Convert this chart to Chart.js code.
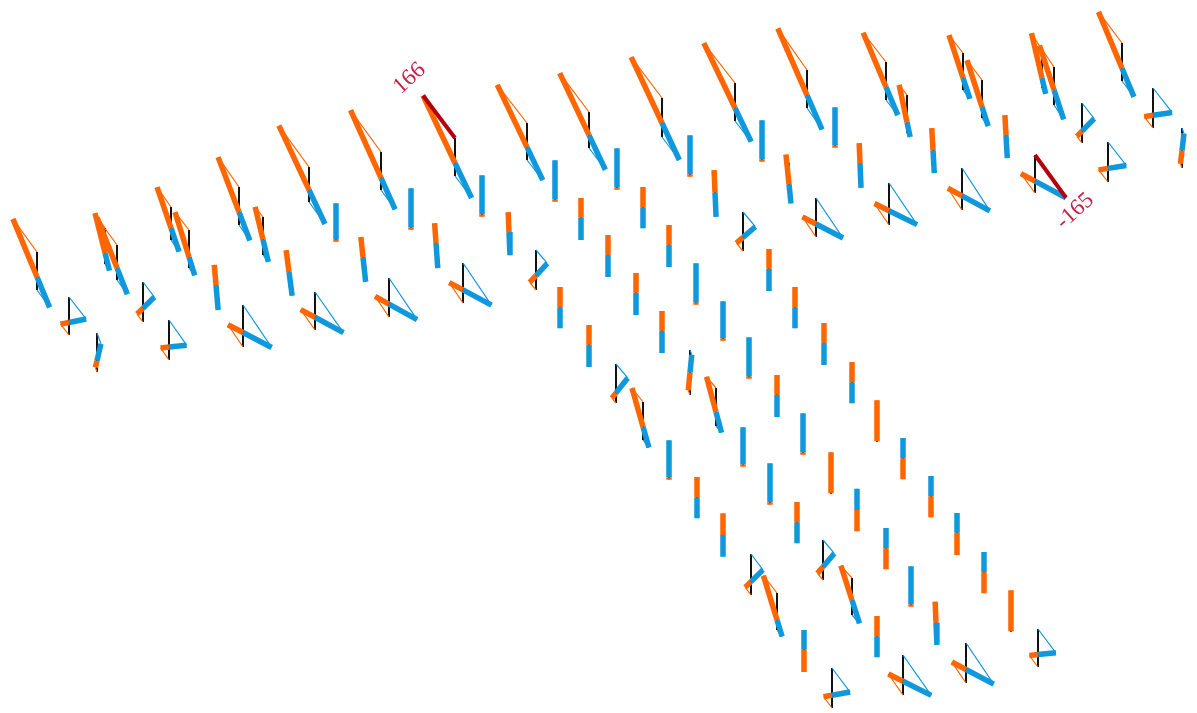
<!DOCTYPE html>
<html>
<head>
<meta charset="utf-8">
<title>Column bending moments</title>
<style>
  html, body { margin: 0; padding: 0; background: #ffffff; }
  #wrap { width: 1197px; height: 713px; }
</style>
<script src="https://cdn.jsdelivr.net/npm/chart.js@4.4.1/dist/chart.umd.min.js"></script>
</head>
<body>
<div id="wrap"><canvas id="chart" width="1197" height="713"></canvas></div>
<script>
// Columns of the frame in view coordinates (y grows downward), one entry per column.
// Groups: upper diagonals, lower diagonals, short members, triangles,
// bars (+/-), bars (-/+), negative bars, positive bars.
const memberX = [
  37, 105, 117, 171, 189, 239, 263, 309, 381, 455, 527, 589, 662, 735, 807, 886, 907, 963, 982, 1042, 1054, 1122,
  643, 716, 777, 852,
  97, 690, 1182, 789,
  69, 143, 169, 243, 315, 389, 463, 536, 743, 816, 889, 962, 1035, 1108, 1082, 1153, 616, 751, 823, 832, 903, 966, 1038,
  216, 289, 363, 436, 509, 581, 643, 715, 860, 933, 1006, 560, 608, 636, 589, 669, 662, 769, 795, 824, 852, 777, 697, 723, 797, 877, 936,
  903, 857, 931, 886, 957, 984, 804,
  336, 411, 482, 555, 617, 690, 762, 835, 696, 723, 749, 669, 743, 770, 803, 911,
  831, 877, 1011
];
const memberTop = [
  252, 228, 245, 207, 230, 187, 217, 167, 152, 138, 123, 112, 98, 83, 70, 62, 95, 53, 80, 50, 67, 43,
  402, 388, 593, 578,
  333, 350, 128, 163,
  297, 282, 320, 305, 292, 278, 263, 250, 212, 198, 183, 168, 155, 142, 103, 88, 364, 554, 540, 668, 655, 643, 629,
  273, 259, 245, 231, 220, 206, 195, 179, 151, 137, 123, 295, 243, 281, 333, 233, 319, 257, 295, 331, 370, 383, 485, 522, 510, 624, 610,
  446, 497, 484, 536, 521, 560, 638,
  215, 200, 187, 172, 160, 147, 132, 119, 275, 313, 349, 452, 439, 475, 425, 578,
  464, 412, 602
];
const memberBottom = [
  290, 264, 280, 240, 268, 225, 255, 202, 190, 176, 160, 148, 137, 121, 108, 100, 133, 90, 118, 88, 105, 81,
  440, 426, 630, 615,
  372, 395, 168, 198,
  335, 322, 360, 347, 330, 317, 303, 290, 251, 237, 225, 210, 193, 182, 143, 128, 403, 595, 580, 708, 695, 683, 667,
  300, 286, 272, 258, 246, 231, 220, 207, 178, 164, 149, 320, 268, 306, 358, 258, 344, 282, 320, 356, 395, 408, 510, 548, 535, 649, 636,
  471, 523, 509, 561, 546, 585, 663,
  241, 229, 216, 201, 189, 176, 161, 147, 304, 340, 378, 479, 466, 504, 454, 606,
  494, 442, 632
];
// Direction of each diagram plane in the view, degrees away from "up".
const diagramTilt = [
  36, 34, 36, 35, 38, 35, 38, 36, 36, 37, 38, 37, 37, 38, 35, 38, 38, 38, 37, 32, 34, 37,
  38, 40, 38, 42,
  20, 20, 20, 20,
  38, 37, 35, 34, 35, 34, 34, 40, 40, 34, 34, 33, 36, 38, 38, 38, 40, 37, 40, 37, 35, 34, 37,
  12, 18, 15, 10, 6, 0, 0, 6, 6, 8, 8, 0, 0, 0, 0, 0, 0, 0, 0, 0, 0, 0, 0, 0, 0, 0, 6,
  180, 180, 180, 180, 180, 180, 180,
  180, 180, 180, 180, 180, 180, 180, 180, 180, 180, 180, 180, 180, 180, 180, 180,
  0, 0, 0
];
// Bending moment at the top and at the bottom of each column (kN·m).
const momentTop = [
  128, 56, 106, 76, 71, 114, 40, 160, 162, 166, 151, 152, 160, 158, 159, 116, 40, 71, 78, 62, 81, 122,
  56, 46, 69, 52,
  -36, -16, -18, 28,
  -87, -59, -96, -160, -155, -157, -159, -55, -60, -151, -157, -160, -165, -93, -62, -97, -57, -62, -55, -94, -154, -155, -93,
  26, 29, 26, 25, 25, 25, 25, 28, 25, 28, 25, 25, 25, 25, 25, 25, 25, 25, 25, 25, 25, 25, 25, 27, 25, 25, 26,
  -25, -26, -25, -25, -25, -25, -25,
  -37, -37, -37, -37, -37, -37, -37, -37, -37, -37, -37, -37, -37, -37, -37, -37,
  37, 37, 37
];
const momentBottom = [
  -67, -25, -55, -44, -29, -59, -27, -85, -75, -86, -80, -85, -90, -82, -82, -60, -16, -35, -32, -22, -54, -62,
  -30, -27, -26, -35,
  15, 16, 14, -18,
  43, 31, 46, 84, 78, 78, 77, 31, 32, 76, 81, 81, 75, 48, 26, 45, 20, 30, 27, 44, 80, 79, 45,
  -32, -32, -32, -32, -29, -28, -26, -31, -31, -29, -29, -26, -28, -28, -28, -28, -28, -28, -26, -28, -26, -28, -26, -27, -26, -26, -28,
  26, 26, 26, 26, 28, 26, 28,
  2, 2, 2, 2, 2, 2, 2, 2, 2, 2, 2, 2, 2, 2, 2, 2,
  2, 2, 2
];

const VIEW_W = 1197;
const VIEW_H = 713;
const MOMENT_SCALE = 0.32;          // view units per kN·m
const POSITIVE = '#ff6600';
const NEGATIVE = '#0f98dc';
const MEMBER = '#111111';
const PEAK = '#b3000f';
const PEAK_TEXT = '#c81e45';

// Locate the largest and smallest end moments.
let peakMax = { i: 0, end: 'top', v: -Infinity };
let peakMin = { i: 0, end: 'top', v: Infinity };
for (let i = 0; i < memberX.length; i++) {
  [['top', momentTop[i]], ['bottom', momentBottom[i]]].forEach(([end, v]) => {
    if (v > peakMax.v) peakMax = { i, end, v };
    if (v < peakMin.v) peakMin = { i, end, v };
  });
}
const isPeak = (i, end) =>
  (peakMax.i === i && peakMax.end === end) || (peakMin.i === i && peakMin.end === end);

const members = [], thinPos = [], thinNeg = [], thickPos = [], thickNeg = [], peakLines = [];
const peakMarks = [];

function addSegment(list, a, b) {
  list.push({ x: a[0], y: a[1] }, { x: b[0], y: b[1] }, { x: null, y: null });
}

for (let i = 0; i < memberX.length; i++) {
  const t = diagramTilt[i] * Math.PI / 180;
  const ux = -Math.sin(t), uy = -Math.cos(t);
  const top = [memberX[i], memberTop[i]];
  const bot = [memberX[i], memberBottom[i]];
  const mt = momentTop[i], mb = momentBottom[i];
  const A = [top[0] + mt * MOMENT_SCALE * ux, top[1] + mt * MOMENT_SCALE * uy];
  const B = [bot[0] + mb * MOMENT_SCALE * ux, bot[1] + mb * MOMENT_SCALE * uy];

  addSegment(members, top, bot);

  [[top, A, mt, 'top'], [bot, B, mb, 'bottom']].forEach(([p, q, m, end]) => {
    if (isPeak(i, end)) {
      addSegment(peakLines, p, q);
      const len = Math.hypot(q[0] - p[0], q[1] - p[1]) || 1;
      peakMarks.push({ x: q[0], y: q[1], dx: (q[0] - p[0]) / len, dy: (q[1] - p[1]) / len, value: m });
    } else {
      addSegment(m >= 0 ? thinPos : thinNeg, p, q);
    }
  });

  if (mt * mb < 0) {
    const f = mt / (mt - mb);
    const Z = [A[0] + (B[0] - A[0]) * f, A[1] + (B[1] - A[1]) * f];
    addSegment(mt > 0 ? thickPos : thickNeg, A, Z);
    addSegment(mb > 0 ? thickPos : thickNeg, Z, B);
  } else {
    addSegment(mt + mb >= 0 ? thickPos : thickNeg, A, B);
  }
}

const lineSet = (label, data, color, width, order) => ({
  label, data, borderColor: color, backgroundColor: color, borderWidth: width,
  showLine: true, pointRadius: 0, pointHoverRadius: 0, spanGaps: false,
  tension: 0, fill: false, order
});

// Value labels beyond the peak moments, turned to follow the diagrams.
const peakLabels = {
  id: 'peakLabels',
  afterDatasetsDraw(chart) {
    const { ctx, scales } = chart;
    ctx.save();
    ctx.fillStyle = PEAK_TEXT;
    ctx.font = '23px "Liberation Serif", "DejaVu Serif", serif';
    ctx.textAlign = 'center';
    ctx.textBaseline = 'middle';
    peakMarks.forEach(p => {
      const px = scales.x.getPixelForValue(p.x + p.dx * 19 - 2);
      const py = scales.y.getPixelForValue(p.y + p.dy * 19 - 2);
      ctx.save();
      ctx.translate(px, py);
      ctx.rotate(-42 * Math.PI / 180);
      ctx.fillText(String(p.value), 0, 0);
      ctx.restore();
    });
    ctx.restore();
  }
};

new Chart(document.getElementById('chart'), {
  type: 'scatter',
  data: {
    datasets: [
      lineSet('peak', peakLines, PEAK, 4, 0),
      lineSet('positive', thickPos, POSITIVE, 5.5, 1),
      lineSet('negative', thickNeg, NEGATIVE, 5.5, 2),
      lineSet('positive ends', thinPos, POSITIVE, 1.2, 3),
      lineSet('negative ends', thinNeg, NEGATIVE, 1.2, 4),
      lineSet('columns', members, MEMBER, 2, 5)
    ]
  },
  options: {
    responsive: false,
    animation: false,
    events: [],
    layout: { padding: 0 },
    scales: {
      x: { type: 'linear', min: 0, max: VIEW_W, display: false },
      y: { type: 'linear', min: 0, max: VIEW_H, reverse: true, display: false }
    },
    plugins: {
      legend: { display: false },
      tooltip: { enabled: false }
    }
  },
  plugins: [peakLabels]
});
</script>
</body>
</html>
